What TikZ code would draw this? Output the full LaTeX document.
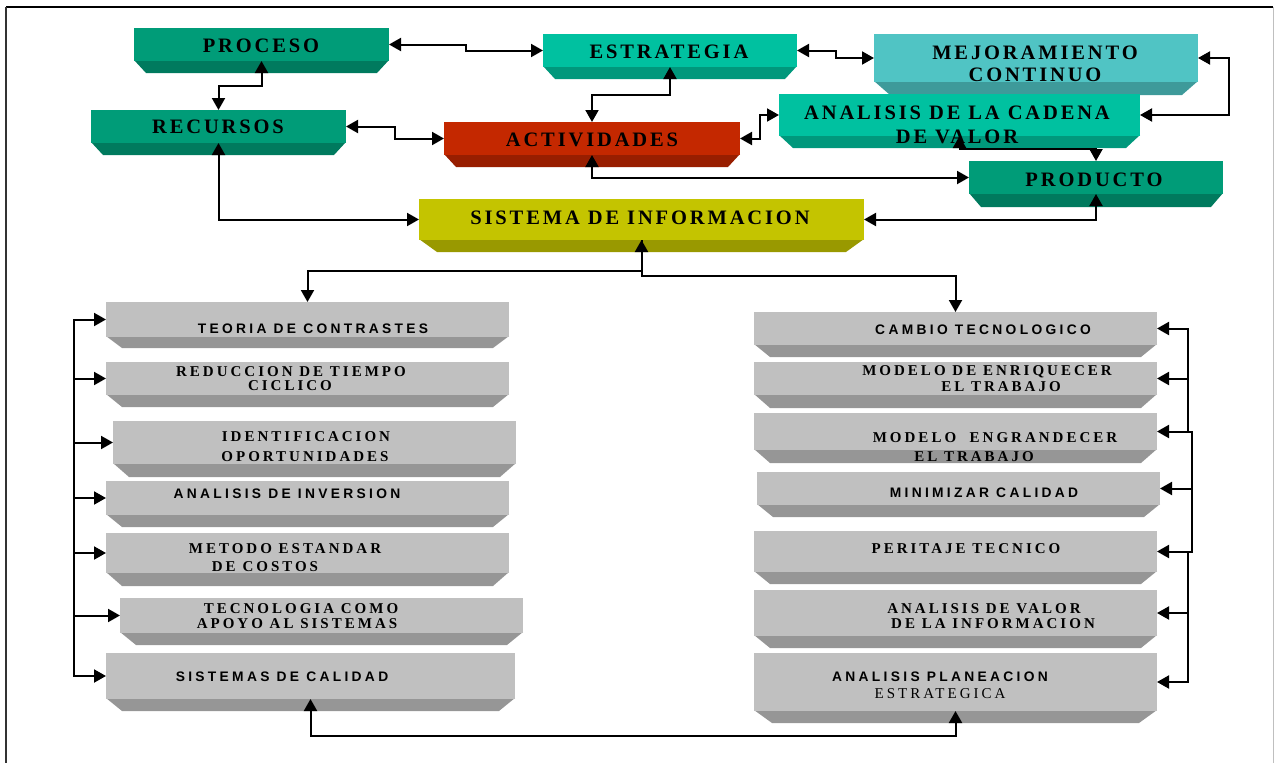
\documentclass[tikz,border=0pt]{standalone}
\usepackage{fontspec}
\setmainfont{Liberation Serif}
\newfontfamily\topfont[LetterSpace=14]{Liberation Serif}
\newfontfamily\grayserif[LetterSpace=20]{Liberation Serif}
\newfontfamily\graysans[LetterSpace=24]{Liberation Sans}
\usetikzlibrary{arrows.meta,calc}
\definecolor{tealD}{RGB}{0,156,120}
\definecolor{tealDb}{RGB}{0,122,94}
\definecolor{tealL}{RGB}{0,193,160}
\definecolor{tealLb}{RGB}{0,152,124}
\definecolor{cyanM}{RGB}{80,196,196}
\definecolor{cyanMb}{RGB}{62,154,154}
\definecolor{redA}{RGB}{196,40,0}
\definecolor{redAb}{RGB}{152,30,0}
\definecolor{oliveS}{RGB}{196,196,0}
\definecolor{oliveSb}{RGB}{153,153,0}
\definecolor{grayF}{RGB}{192,192,192}
\definecolor{grayB}{RGB}{150,150,150}
\newcommand{\bevbox}[9]{%
  \fill[#8] (#2,{#5-1}) -- (#4,{#5-1}) -- ({#4-#9},#6) -- ({#2+#9},#6) -- cycle;
  \node[facebox, fill=#7, minimum width={(#4)-(#2)}, minimum height={(#5)-(#3)}] (#1) at ({(#2+#4)/2},{(#3+#5)/2}) {};
}
\tikzset{
  facebox/.style={inner sep=0pt, outer sep=0pt, draw=none, shape=rectangle},
  ttext/.style={font=\topfont\bfseries\fontsize{20.5}{22}\selectfont, align=center, inner sep=0pt},
  gserif/.style={font=\grayserif\bfseries\fontsize{15}{14}\selectfont, inner sep=0pt},
  gserifr/.style={font=\grayserif\fontsize{15}{14}\selectfont, inner sep=0pt},
  gsans/.style={font=\graysans\bfseries\fontsize{13.8}{14}\selectfont, inner sep=0pt},
  conn/.style={line width=2pt, black},
  biarr/.style={conn, {Triangle[length=12pt,width=13pt]}-{Triangle[length=12pt,width=13pt]}},
  arr/.style={conn, -{Triangle[length=12pt,width=13pt]}}
}
\begin{document}
\begin{tikzpicture}[x=1pt, y=-1pt]
\useasboundingbox (0,0) rectangle (1275,763);
% frame
\draw[line width=2pt] (6,7) -- (1273,7);
\draw[line width=2pt, black!80] (6,7) -- (6,763);
\draw[line width=0.8pt, black!25] (1273,7) -- (1273,763);

% top boxes
\bevbox{proceso}{134}{28}{389}{61}{73}{tealD}{tealDb}{12}
\bevbox{estrategia}{543}{34}{797}{67}{79}{tealL}{tealLb}{12}
\bevbox{mejora}{874}{34}{1198}{82}{95}{cyanM}{cyanMb}{16}
\bevbox{recursos}{91}{110}{346}{143}{155}{tealD}{tealDb}{12}
\bevbox{actividades}{444}{122}{740}{155}{167}{redA}{redAb}{12}
\bevbox{cadena}{779}{94}{1140}{136}{148}{tealL}{tealLb}{14}
\bevbox{producto}{969}{161}{1223}{194}{207}{tealD}{tealDb}{12}
\bevbox{sistema}{419}{199}{864}{240}{252}{oliveS}{oliveSb}{18}

% gray boxes left
\bevbox{teoria}{106}{302}{509}{337}{348}{grayF}{grayB}{16}
\bevbox{reduccion}{106}{362}{509}{395}{407}{grayF}{grayB}{16}
\bevbox{identif}{113}{421}{516}{464}{477}{grayF}{grayB}{16}
\bevbox{inversion}{106}{481}{509}{515}{527}{grayF}{grayB}{16}
\bevbox{metodo}{106}{533}{509}{573}{586}{grayF}{grayB}{16}
\bevbox{tecno}{120}{598}{523}{633}{645}{grayF}{grayB}{16}
\bevbox{calidad}{106}{653}{515}{699}{711}{grayF}{grayB}{16}
% gray boxes right
\bevbox{cambio}{754}{312}{1157}{345}{357}{grayF}{grayB}{16}
\bevbox{enriq}{754}{362}{1157}{395}{408}{grayF}{grayB}{16}
\bevbox{engran}{754}{413}{1157}{450}{463}{grayF}{grayB}{16}
\bevbox{minim}{757}{472}{1160}{505}{517}{grayF}{grayB}{16}
\bevbox{peritaje}{754}{531}{1157}{572}{584}{grayF}{grayB}{16}
\bevbox{valor}{754}{590}{1157}{636}{648}{grayF}{grayB}{16}
\bevbox{plan}{754}{653}{1157}{711}{723}{grayF}{grayB}{18}

% top texts
\node[ttext] (proceso-t) at (261,46) {PROCESO};
\node[ttext] (estrategia-t) at (669,52) {ESTRATEGIA};
\node[ttext] (mejora-t) at (1035,64) {MEJORAMIENTO\\CONTINUO};
\node[ttext] (recursos-t) at (218,127) {RECURSOS};
\node[ttext] (actividades-t) at (592,140) {ACTIVIDADES};
\node[ttext] (cadena-t) at (957,125) {ANALISIS DE LA CADENA\\[2pt]DE VALOR};
\node[ttext] (producto-t) at (1094,180) {PRODUCTO};
\node[ttext] (sistema-t) at (640,218) {SISTEMA DE INFORMACION};

% gray texts left
\node[gsans] (teoria-t) at (313,329) {TEORIA DE CONTRASTES};
\node[gserif] (reduccion-t1) at (291,372) {REDUCCION DE TIEMPO};
\node[gserif] (reduccion-t2) at (290,386) {CICLICO};
\node[gserif] (identif-t1) at (306,437) {IDENTIFICACION};
\node[gserif] (identif-t2) at (305,457) {OPORTUNIDADES};
\node[gsans] (inversion-t) at (287,494) {ANALISIS DE INVERSION};
\node[gserif] (metodo-t1) at (285,549) {METODO ESTANDAR};
\node[gserif] (metodo-t2) at (265,567) {DE COSTOS};
\node[gserif] (tecno-t1) at (301,609) {TECNOLOGIA COMO};
\node[gserif] (tecno-t2) at (297,624) {APOYO AL SISTEMAS};
\node[gsans] (calidad-t) at (282,677) {SISTEMAS DE CALIDAD};
% gray texts right
\node[gsans] (cambio-t) at (983,330) {CAMBIO TECNOLOGICO};
\node[gserif] (enriq-t1) at (987,372) {MODELO DE ENRIQUECER};
\node[gserif] (enriq-t2) at (1001,387) {EL TRABAJO};
\node[gserif] (engran-t1) at (995,438) {MODELO\ \ ENGRANDECER};
\node[gserif] (engran-t2) at (974,457) {EL TRABAJO};
\node[gsans] (minim-t) at (984,493) {MINIMIZAR CALIDAD};
\node[gserif] (peritaje-t) at (966,549) {PERITAJE TECNICO};
\node[gserif] (valor-t1) at (984,609) {ANALISIS DE VALOR};
\node[gserif] (valor-t2) at (993,624) {DE LA INFORMACION};
\node[gsans] (plan-t1) at (940,677) {ANALISIS PLANEACION};
\node[gserifr] (plan-t2) at (940,694) {ESTRATEGICA};

% connectors top
\draw[biarr] (proceso.east) -| ($(proceso.east)!.5!(estrategia.west)$) |- (estrategia.west);
\draw[biarr] (proceso.south) |- ($(proceso.south)!.5!(recursos.north)$) -| (recursos.north);
\draw[biarr] (recursos.east) -| ($(recursos.east)!.5!(actividades.west)$) |- (actividades.west);
\draw[biarr] (estrategia.south) |- ($(estrategia.south)!.5!(actividades.north)$) -| (actividades.north);
\draw[biarr] (estrategia.east) -| ($(estrategia.east)!.5!(mejora.west)$) |- (mejora.west);
\draw[biarr] (mejora.east) -- ++(31,0) |- (cadena.east);
\draw[biarr] (actividades.east) -| ($(actividades.east)!.5!(cadena.west)$) |- (cadena.west);
\draw[biarr] (actividades.south) |- (producto.west);
\draw[biarr] (cadena.south) |- ($(cadena.south)!.5!(producto.north)$) -| (producto.north);
\draw[biarr] (recursos.south) |- (sistema.west);
\draw[biarr] (producto.south) |- (sistema.east);
\draw[biarr] (sistema.south) |- ($(sistema.south)!.5!(teoria.north)$) -| (teoria.north);
\draw[arr] (sistema.south) |- ($(sistema.south)!.5!(cambio.north)$) -| (cambio.north);
\draw[biarr] (calidad.south) -- ++(0,37) -| (plan.south);

% left bus
\coordinate (lbus) at (74,0);
\draw[biarr] (teoria.west) -- (teoria.west -| lbus) -- (calidad.west -| lbus) -- (calidad.west);
\draw[arr] (reduccion.west -| lbus) -- (reduccion.west);
\draw[arr] (identif.west -| lbus) -- (identif.west);
\draw[arr] (inversion.west -| lbus) -- (inversion.west);
\draw[arr] (metodo.west -| lbus) -- (metodo.west);
\draw[arr] (tecno.west -| lbus) -- (tecno.west);

% right bus
\coordinate (rbusA) at (1188,0);
\coordinate (rbusB) at (1192,0);
\draw[biarr] (cambio.east) -- (cambio.east -| rbusA) -- (engran.east -| rbusA) -- (engran.east -| rbusB) -- (peritaje.east -| rbusB) -- (peritaje.east -| rbusA) -- (plan.east -| rbusA) -- (plan.east);
\draw[arr] (enriq.east -| rbusA) -- (enriq.east);
\draw[arr] (engran.east -| rbusA) -- (engran.east);
\draw[arr] (minim.east -| rbusB) -- (minim.east);
\draw[arr] (peritaje.east -| rbusB) -- (peritaje.east);
\draw[arr] (valor.east -| rbusA) -- (valor.east);
\end{tikzpicture}
\end{document}
